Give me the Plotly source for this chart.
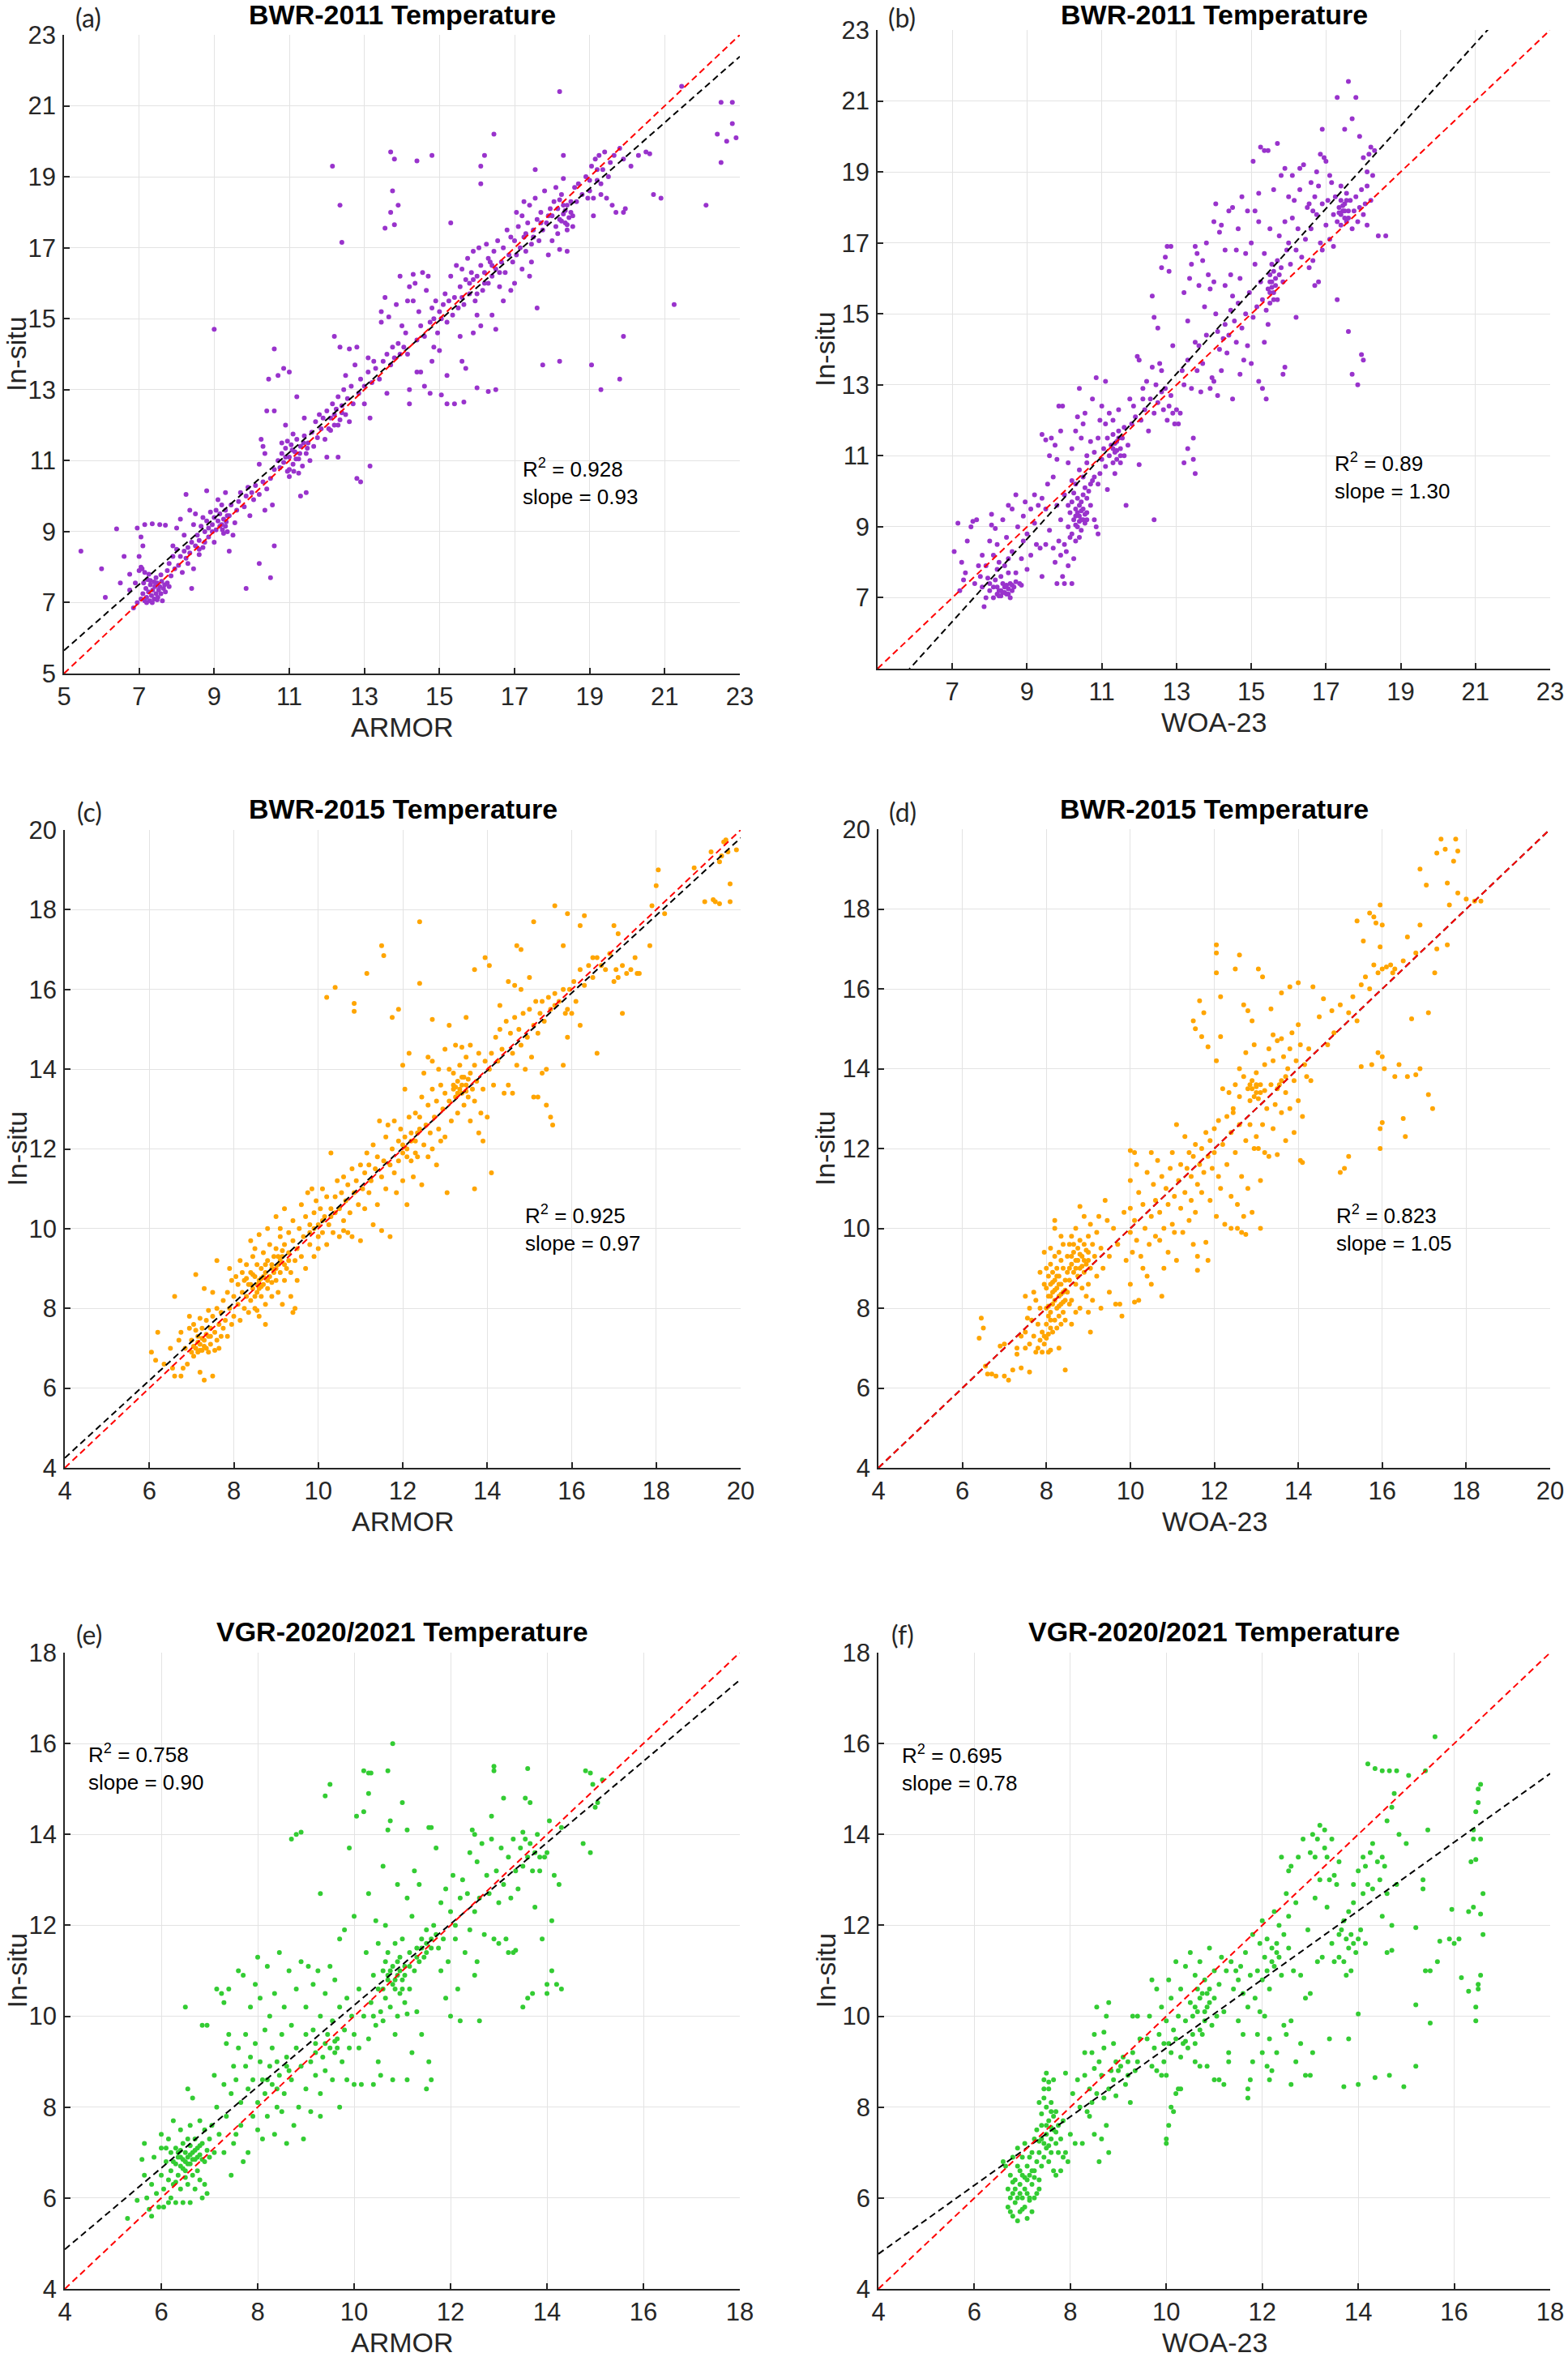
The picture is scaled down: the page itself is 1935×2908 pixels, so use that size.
import plotly.graph_objects as go

# ---- data: (model, in-situ) pairs ----
bwr2011_armor = [
    (7.05,7.10),(7.10,7.25),(7.15,7.05),(7.18,7.40),(7.20,7.15),(7.25,7.30),(7.28,7.05),(7.30,7.50),(7.33,7.20),(7.36,7.35),
    (7.40,7.10),(7.42,7.45),(7.45,7.25),(7.48,7.55),(7.50,7.15),(7.52,7.35),(7.55,7.45),(7.58,7.25),(7.60,7.60),(7.62,7.05),
    (7.65,7.40),(7.68,7.50),(7.70,7.30),(7.12,7.55),(7.22,7.65),(7.35,7.00),(7.45,7.70),(7.75,7.55),(7.80,7.45),(7.26,7.80),
    (7.08,7.95),(7.15,7.85),(6.85,6.85),(6.95,7.00),(6.75,7.35),(6.90,7.55),(7.0,7.9),(7.0,8.3),(7.1,8.6),(7.05,8.0),
    (6.95,9.10),(7.15,9.20),(7.35,9.22),(7.55,9.20),(7.70,9.18),(7.05,8.85),(5.45,8.45),(6.0,7.95),(6.1,7.15),(6.4,9.08),
    (6.6,8.30),(6.5,7.55),(6.75,7.80),(7.75,7.9),(7.8,8.1),(7.85,7.75),(7.9,8.3),(7.95,7.95),(8.0,8.5),(8.05,8.05),
    (8.1,8.3),(8.15,7.85),(8.2,8.45),(8.25,8.25),(8.3,8.55),(8.35,8.4),(8.4,8.7),(8.3,8.1),(8.2,8.9),(8.45,7.95),
    (8.0,9.1),(8.1,9.35),(8.25,10.05),(8.4,7.4),(8.45,9.2),(7.9,8.6),(8.35,9.6),(8.5,9.5),(8.5,8.6),(8.55,8.9),
    (8.6,8.75),(8.65,9.15),(8.7,9.4),(8.7,8.55),(8.75,9.0),(8.8,9.3),(8.85,8.85),(8.9,9.55),(8.95,9.2),(9.0,9.4),
    (9.05,9.05),(9.1,9.3),(9.15,9.5),(9.2,9.2),(9.25,9.35),(9.3,9.15),(9.3,9.6),(9.35,9.0),(9.4,9.45),(9.45,9.75),
    (9.2,9.75),(9.1,9.9),(9.5,8.9),(9.55,9.25),(9.6,9.6),(9.0,8.7),(8.8,10.15),(9.3,10.1),(9.4,8.45),(8.6,8.35),
    (9.25,8.95),(9.65,9.85),(9.7,10.1),(9.8,9.7),(9.85,10.0),(9.9,10.25),(10.0,10.1),(10.05,9.9),(10.1,10.3),(10.2,10.05),
    (10.3,10.4),(10.35,9.6),(10.4,10.2),(10.5,10.5),(10.55,9.75),(9.95,9.45),(10.2,10.9),(10.25,11.6),(10.35,11.2),(10.4,12.4),
    (10.6,12.4),(10.3,11.4),(10.6,14.15),(9.0,14.7),(9.85,7.4),(10.2,8.1),(10.5,7.7),(10.6,8.6),(10.6,10.75),(10.7,13.4),
    (10.45,13.3),(10.7,11.0),(10.75,10.8),(10.8,11.2),(10.85,10.95),(10.9,11.35),(10.95,10.7),(11.0,11.1),(11.05,11.45),(11.1,10.9),
    (11.15,11.25),(11.2,11.6),(11.25,11.05),(11.3,11.4),(11.35,10.85),(11.4,11.7),(11.45,11.2),(11.5,11.5),(11.55,11.0),(11.6,11.8),
    (11.1,11.75),(10.8,11.5),(10.9,12.0),(11.0,10.55),(11.25,10.65),(10.85,13.6),(11.0,13.5),(11.2,12.8),(11.3,10.0),(11.45,10.1),
    (11.65,11.4),(11.7,12.1),(11.75,11.65),(11.8,12.3),(11.4,12.2),(11.85,11.9),(11.9,12.2),(11.95,11.6),(12.0,12.4),(12.05,11.9),
    (12.1,12.2),(12.15,12.6),(12.2,12.0),(12.25,12.45),(12.3,12.8),(12.35,12.15),(12.4,12.55),(12.45,13.0),(12.5,12.3),(12.55,12.75),
    (12.6,12.1),(12.65,13.1),(12.7,12.6),(12.0,11.1),(12.2,14.5),(12.4,17.15),(12.15,19.3),(12.35,18.2),(12.35,14.2),(12.5,13.4),
    (12.6,14.15),(12.8,14.2),(12.75,13.7),(12.8,10.5),(12.9,10.4),(13.15,10.85),(12.3,11.1),(12.85,12.9),(12.9,13.3),(13.0,12.6),
    (13.0,13.1),(13.1,13.5),(13.15,12.2),(13.2,13.2),(13.3,13.6),(13.4,13.3),(13.5,13.8),(13.6,14.0),(13.7,13.7),(13.75,14.2),
    (13.8,13.9),(13.9,14.3),(13.95,14.0),(13.45,14.9),(13.55,15.6),(13.45,15.2),(13.65,15.05),(13.25,13.8),(13.6,12.9),(13.1,13.9),
    (13.85,15.4),(13.7,19.7),(13.8,19.5),(13.75,18.6),(13.9,18.2),(13.7,18.0),(13.8,17.65),(13.55,17.55),(14.0,14.8),(14.05,14.2),
    (14.1,14.6),(14.15,14.0),(14.2,15.9),(14.3,15.5),(14.35,16.0),(14.4,14.4),(14.45,15.2),(14.5,14.8),(14.55,16.3),(14.6,14.5),
    (14.65,15.8),(14.7,16.2),(14.75,14.9),(14.8,15.3),(14.85,15.0),(14.9,15.5),(14.95,14.6),(15.0,15.2),(15.05,15.0),(15.1,15.4),
    (15.15,15.7),(15.2,14.9),(15.25,15.5),(15.3,16.2),(15.35,15.1),(15.4,15.6),(15.45,16.5),(15.5,15.3),(14.2,12.6),(14.75,12.9),
    (15.05,12.85),(15.2,12.6),(15.4,12.6),(15.65,12.65),(14.4,13.5),(14.6,13.1),(14.8,13.8),(15.0,14.1),(15.2,13.4),(14.2,13.0),
    (14.85,14.2),(14.5,13.5),(14.4,19.45),(14.8,19.6),(15.3,17.7),(14.3,16.25),(13.95,16.2),(14.15,15.5),(15.6,13.8),(15.7,13.6),
    (15.55,14.5),(15.55,15.9),(15.6,16.4),(15.65,15.4),(15.7,16.1),(15.75,16.7),(15.8,15.7),(15.85,16.3),(15.9,16.9),(15.95,15.5),
    (16.0,16.2),(16.05,17.0),(16.1,16.5),(16.15,15.8),(16.2,16.3),(16.25,17.1),(16.3,16.0),(16.35,16.6),(16.4,16.2),(16.45,16.9),
    (16.5,16.4),(16.55,17.2),(16.6,15.9),(16.65,16.6),(16.7,17.0),(16.75,16.3),(16.8,17.5),(16.85,16.8),(16.9,17.3),(16.95,16.6),
    (16.1,19.3),(16.2,19.6),(16.1,18.8),(16.45,20.2),(16.0,13.05),(16.3,12.95),(16.5,13.0),(16.4,15.1),(16.1,14.8),(15.9,14.6),
    (16.5,14.7),(16.0,15.1),(16.7,15.5),(16.9,15.8),(17.0,16.0),(17.0,17.2),(17.05,16.8),(17.1,17.6),(17.15,17.0),(17.2,17.9),
    (17.25,17.3),(17.3,16.9),(17.35,17.7),(17.4,18.2),(17.45,17.1),(17.5,17.5),(17.55,18.4),(17.6,17.8),(17.65,17.2),(17.7,18.0),
    (17.75,17.5),(17.8,18.6),(17.85,17.7),(17.9,16.8),(17.95,18.1),(17.55,19.2),(17.6,15.3),(17.75,13.7),(17.2,16.4),(17.4,16.2),
    (17.05,18.0),(17.25,18.3),(17.45,16.6),(18.0,17.9),(18.05,18.3),(18.1,17.6),(18.15,18.1),(18.2,17.8),(18.25,18.5),(18.3,17.95),
    (18.35,17.7),(18.4,18.2),(18.45,17.85),(18.5,18.0),(18.55,17.6),(18.6,18.7),(18.65,18.3),(18.7,18.8),(18.8,18.5),(18.9,19.0),
    (18.95,18.4),(18.1,18.7),(18.3,18.95),(18.0,17.2),(18.2,16.95),(18.4,16.9),(18.2,21.4),(18.3,19.6),(18.2,13.8),(18.4,17.5),
    (18.15,17.4),(19.0,18.6),(19.05,19.3),(19.1,18.4),(19.15,19.5),(19.2,18.9),(19.25,19.6),(19.3,18.5),(19.35,19.2),(19.45,18.4),
    (19.5,19.0),(19.55,19.4),(19.6,18.2),(19.7,18.0),(19.8,19.8),(19.9,18.0),(19.95,18.1),(19.05,13.7),(19.3,13.0),(19.8,13.3),
    (19.9,14.5),(19.1,17.9),(19.4,19.7),(20.3,19.6),(20.5,19.7),(20.7,18.5),(20.9,18.4),(20.6,19.65),(20.1,19.3),(19.9,19.5),
    (19.65,19.6),(21.25,15.4),(21.45,21.55),(22.1,18.2),(22.4,20.2),(22.5,21.1),(22.5,19.4),(22.65,20.0),(22.8,21.1),(22.8,20.5),
    (22.9,20.1),
    (7.3,7.62),(7.48,7.08),(7.58,7.78),(7.2,7.0),(7.4,7.58),(8.6,8.5),(8.75,8.7),(8.95,9.0),(9.15,9.15),(9.35,9.45),
    (9.22,9.05),(9.32,9.28),(8.85,9.1),(9.05,9.6),(10.9,11.1),(11.0,10.75),(11.08,11.3),(11.18,11.05),(11.28,11.2),(11.38,11.5),
    (11.48,11.35),(11.12,10.7),(10.95,11.55),(12.1,11.85),(12.2,12.3),(12.3,12.0),(12.4,12.35),(15.6,15.6),(15.8,16.0),(16.0,15.7),
    (16.2,16.0),(16.4,16.5),(16.6,16.3),(15.9,16.1),(16.3,16.7),(17.3,17.4),(17.5,17.3),(17.7,17.7),(17.9,17.9),(18.3,18.2),
    (18.4,17.65),(18.5,18.3),(18.25,17.75),(18.35,18.05),(18.55,17.9),(18.2,18.35),(19.2,19.2),(19.3,18.8),(19.0,18.9),
]

bwr2011_woa = [
    (7.05,8.3),(7.15,9.1),(7.2,7.2),(7.25,8.0),(7.3,7.5),(7.35,7.7),(7.4,8.6),(7.5,9.0),(7.55,9.15),(7.65,9.2),
    (7.7,7.9),(7.75,7.6),(7.8,7.3),(7.85,6.75),(7.9,7.0),(7.8,8.2),(7.9,7.9),(8.0,8.6),(8.05,9.05),(8.1,8.2),
    (8.15,8.95),(8.2,8.5),(8.0,7.4),(8.1,7.3),(8.2,7.1),(8.25,7.2),(8.3,7.05),(8.35,7.15),(8.4,7.3),(8.45,7.1),
    (8.5,7.25),(8.55,7.4),(8.6,7.2),(8.65,7.3),(8.7,7.45),(8.8,7.4),(8.85,7.35),(8.15,7.5),(8.3,7.6),(8.4,7.9),
    (8.5,7.7),(8.5,8.1),(8.6,8.3),(8.45,8.7),(8.6,9.5),(8.7,9.9),(8.5,9.6),(8.35,9.2),(8.75,9.0),(8.9,9.3),
    (8.9,8.6),(9.0,8.8),(8.85,8.1),(9.0,7.8),(8.95,9.7),(8.05,9.35),(8.2,7.8),(7.95,7.55),(8.25,8.0),(8.55,7.0),
    (8.7,7.7),(8.0,7.2),(8.1,7.0),(7.6,7.4),(9.1,9.5),(9.2,9.9),(9.3,9.6),(9.4,9.8),(9.5,9.5),(9.2,9.1),
    (9.35,8.4),(9.4,7.6),(9.5,8.5),(9.6,8.9),(9.1,8.2),(9.25,8.5),(9.4,11.6),(9.5,11.45),(9.6,11.0),(9.65,11.5),
    (9.75,11.3),(9.8,10.9),(9.7,10.4),(9.55,10.2),(9.85,12.4),(9.95,12.4),(9.9,11.7),(9.7,8.4),(9.75,8.0),(9.8,7.4),
    (9.85,8.6),(9.9,8.2),(9.95,7.6),(10.0,7.4),(10.0,8.5),(10.05,8.3),(10.1,7.9),(10.15,8.7),(10.2,7.4),(10.25,8.1),
    (9.9,9.2),(9.8,9.6),(10.0,9.9),(10.1,9.0),(10.15,9.4),(10.2,9.7),(10.2,8.8),(10.25,9.2),(10.3,9.5),(10.3,8.6),
    (10.35,9.0),(10.35,9.8),(10.4,9.3),(10.4,9.6),(10.45,8.9),(10.45,9.2),(10.5,9.5),(10.5,9.9),(10.55,9.1),(10.55,10.1),
    (10.6,9.4),(10.6,9.8),(10.65,10.0),(10.7,10.2),(10.7,9.6),(10.75,10.3),(10.8,9.2),(10.85,9.0),(10.9,8.8),(10.3,10.2),
    (10.4,10.6),(10.5,10.4),(10.6,10.8),(10.8,10.4),(10.9,10.2),(10.95,10.5),(10.25,9.95),(10.1,9.6),(10.4,8.7),(10.6,9.2),
    (10.2,10.3),(10.1,10.8),(10.2,11.2),(10.3,11.7),(10.35,12.1),(10.4,12.9),(10.5,11.9),(10.55,12.2),(10.6,11.0),(10.7,11.4),
    (10.75,12.6),(10.8,11.1),(10.85,13.2),(10.9,11.5),(10.95,12.0),(11.1,13.1),(11.0,12.4),(10.45,11.5),(11.15,10.05),(11.0,10.9),
    (11.05,11.2),(11.1,10.7),(11.15,11.5),(11.2,11.0),(11.25,11.3),(11.3,10.8),(11.3,11.6),(11.35,11.1),(11.4,11.4),(11.4,10.9),
    (11.45,11.7),(11.5,11.2),(11.5,10.8),(11.55,11.5),(11.6,11.0),(11.6,11.8),(11.2,12.2),(11.3,12.0),(11.45,12.3),(11.1,11.9),
    (11.7,11.3),(11.75,12.6),(11.65,9.6),(11.35,10.5),(11.8,11.9),(11.85,12.4),(11.9,12.1),(11.95,13.8),(12.0,13.7),(12.05,12.0),
    (12.1,12.9),(12.15,12.3),(12.2,13.1),(12.25,11.7),(12.3,12.6),(12.35,13.5),(12.4,12.2),(12.45,13.0),(12.5,12.5),(12.5,14.6),
    (12.4,14.9),(12.35,15.5),(12.55,13.6),(12.6,12.8),(12.65,12.3),(12.7,12.9),(12.75,12.0),(12.8,12.4),(12.85,12.7),(12.9,12.2),
    (12.95,11.9),(13.0,12.3),(12.6,16.3),(12.7,16.6),(12.75,16.9),(12.85,16.9),(12.8,16.2),(12.9,14.1),(12.0,10.75),(12.4,9.2),
    (12.1,12.6),(12.6,13.4),(13.05,11.9),(13.1,12.2),(13.2,10.8),(13.45,10.9),(13.5,10.5),(13.45,11.5),(13.3,11.2),(13.2,13.0),
    (13.3,13.7),(13.4,12.9),(13.5,14.2),(13.55,13.4),(13.6,14.1),(13.65,12.8),(13.7,13.6),(13.8,14.4),(13.9,12.9),(13.95,13.2),
    (13.2,15.6),(13.35,16.0),(13.4,16.4),(13.5,16.9),(13.55,16.7),(13.7,16.5),(13.6,15.8),(13.75,15.2),(13.8,17.0),(13.85,16.1),
    (13.9,15.7),(13.3,14.8),(13.15,13.4),(14.0,17.6),(14.05,18.1),(14.15,17.3),(14.2,17.5),(14.3,16.8),(14.4,17.9),(14.45,16.1),
    (14.5,18.0),(14.6,16.8),(14.65,17.4),(14.75,18.3),(14.85,16.7),(14.9,17.9),(14.0,13.1),(14.1,12.7),(14.2,13.4),(14.25,14.3),
    (14.3,14.7),(14.35,13.9),(14.4,14.4),(14.45,15.1),(14.5,12.6),(14.55,14.8),(14.6,14.2),(14.65,15.3),(14.7,13.3),(14.75,14.6),
    (14.8,13.7),(14.85,15.0),(14.9,14.1),(14.95,15.6),(14.05,15.0),(14.15,14.0),(14.5,15.5),(14.7,16.0),(14.0,15.9),(14.3,15.8),
    (14.1,14.5),(15.0,13.6),(15.05,14.9),(15.1,16.4),(15.15,15.2),(15.2,13.1),(15.25,15.9),(15.3,15.4),(15.3,12.9),(15.35,16.7),
    (15.4,15.1),(15.4,12.6),(15.45,15.7),(15.5,16.1),(15.5,15.3),(15.55,15.9),(15.55,16.4),(15.6,15.6),(15.6,16.2),(15.65,15.8),
    (15.7,16.5),(15.7,15.4),(15.75,16.1),(15.8,16.3),(15.85,15.9),(15.45,14.7),(15.35,14.2),(15.0,17.0),(15.1,17.9),(15.2,18.4),
    (15.05,19.3),(15.25,19.7),(15.35,19.6),(15.45,19.6),(15.7,19.8),(15.6,18.5),(15.8,18.9),(15.9,19.1),(15.75,17.2),(15.9,17.6),
    (15.95,16.8),(15.9,13.5),(15.85,13.3),(15.2,17.6),(15.5,17.4),(16.0,17.0),(16.05,16.4),(16.1,17.7),(16.15,18.2),(16.2,16.8),
    (16.2,14.9),(16.25,17.4),(16.3,18.5),(16.35,16.6),(16.4,19.2),(16.45,17.1),(16.5,18.0),(16.55,16.3),(16.6,18.7),(16.6,17.4),
    (16.65,16.5),(16.7,18.3),(16.75,17.8),(16.8,18.6),(16.8,15.9),(16.85,17.0),(16.9,18.1),(16.9,16.8),(16.95,19.4),(16.9,20.2),
    (16.7,15.8),(16.3,19.1),(16.55,18.1),(16.75,19.0),(16.1,18.9),(16.65,17.9),(16.0,18.3),(17.0,17.5),(17.05,18.2),(17.1,17.1),
    (17.15,18.7),(17.2,17.8),(17.25,18.3),(17.3,17.6),(17.3,21.1),(17.35,18.0),(17.4,18.2),(17.4,17.5),(17.45,17.9),(17.5,18.1),
    (17.5,17.7),(17.55,17.6),(17.55,18.4),(17.6,17.9),(17.6,21.55),(17.65,18.2),(17.7,17.4),(17.7,20.5),(17.75,17.9),(17.8,18.3),
    (17.8,21.1),(17.85,17.6),(17.9,18.0),(17.9,20.0),(17.95,18.5),(18.0,17.8),(18.0,19.4),(18.05,18.1),(18.1,17.5),(18.1,19.0),
    (18.15,19.5),(18.2,19.7),(18.2,18.2),(18.25,18.9),(18.3,19.6),(18.4,17.2),(18.6,17.2),(17.5,20.2),(17.3,15.4),(17.6,14.5),
    (17.95,13.85),(18.0,13.7),(17.85,13.0),(17.7,13.3),(17.2,16.9),(17.0,19.3),(16.85,19.5),(17.1,18.9),(18.1,18.6),(17.4,18.6),
    (8.2,7.3),(8.3,7.2),(8.4,7.15),(8.35,7.4),(8.45,7.35),(8.25,7.05),(8.5,7.1),(8.6,7.35),(10.3,9.3),(10.35,9.4),
    (10.4,9.15),(10.45,9.45),(10.5,9.2),(10.55,9.35),(10.45,9.7),(10.3,9.05),(11.35,11.35),(11.4,11.15),(11.45,11.5),(11.5,11.0),
    (11.3,11.2),(15.5,15.6),(15.55,15.75),(15.6,15.4),(15.65,16.0),(15.5,15.9),(17.4,17.8),(17.45,18.05),(17.5,17.9),(17.55,18.2),
    (17.6,17.7),(17.35,17.85),
]

bwr2015_armor = [
    (6.05,6.9),(6.2,7.4),(6.15,6.7),(6.35,6.6),(6.5,7.0),(6.55,6.5),(6.6,8.3),(6.6,6.3),(6.75,6.3),(6.8,6.5),
    (6.7,7.2),(6.75,7.4),(6.85,7.0),(6.9,6.6),(6.95,7.5),(7.0,6.9),(7.0,7.2),(7.05,6.8),(7.05,7.6),(7.1,7.0),
    (7.1,8.85),(7.15,7.3),(7.15,6.9),(7.2,7.1),(7.2,6.4),(7.25,7.5),(7.25,6.95),(7.3,7.2),(7.3,6.2),(7.35,7.0),
    (7.35,7.7),(7.4,7.3),(7.4,6.9),(7.45,7.5),(7.45,7.1),(7.5,7.8),(7.5,6.3),(7.55,7.4),(7.6,7.2),(7.6,8.0),
    (7.65,7.6),(7.7,7.3),(7.7,7.9),(7.75,8.2),(7.75,7.5),(7.8,7.7),(7.85,8.4),(7.85,7.3),(7.9,8.0),(7.95,7.6),
    (7.3,8.5),(7.5,8.4),(7.6,9.2),(7.9,9.0),(7.95,8.7),(7.1,7.45),(7.2,7.75),(6.95,7.8),(7.4,7.95),(7.55,6.95),
    (7.65,7.0),(8.0,8.3),(8.0,7.8),(8.05,8.8),(8.1,8.1),(8.1,8.6),(8.15,7.7),(8.15,9.2),(8.2,8.4),(8.2,8.9),
    (8.25,8.0),(8.25,8.7),(8.3,8.3),(8.3,9.1),(8.35,8.6),(8.35,7.9),(8.4,8.9),(8.4,8.2),(8.45,9.3),(8.45,8.5),
    (8.5,8.0),(8.5,8.8),(8.5,9.5),(8.55,8.4),(8.55,9.1),(8.6,8.7),(8.6,7.8),(8.65,9.0),(8.65,8.3),(8.7,8.6),
    (8.7,9.4),(8.75,8.9),(8.75,8.1),(8.8,9.2),(8.8,8.5),(8.85,8.8),(8.85,9.6),(8.9,9.0),(8.9,8.3),(8.95,9.3),
    (9.0,8.7),(9.0,9.5),(9.05,9.1),(9.05,8.4),(9.1,9.8),(9.1,8.9),(9.15,9.3),(9.2,9.6),(9.2,8.7),(9.25,9.0),
    (9.3,9.9),(9.3,9.4),(9.35,8.9),(9.4,9.7),(9.4,10.2),(9.45,9.2),(9.5,9.5),(9.5,8.7),(9.45,8.0),(9.4,7.9),
    (9.35,8.3),(8.6,9.85),(8.8,10.0),(9.0,10.3),(9.2,10.5),(9.1,10.0),(8.4,9.7),(8.55,7.95),(8.75,7.6),(9.15,8.1),
    (8.3,8.75),(8.65,8.55),(8.9,8.65),(9.55,10.0),(9.6,9.3),(9.6,10.6),(9.65,9.8),(9.7,10.3),(9.7,9.0),(9.75,10.9),
    (9.8,9.6),(9.8,10.1),(9.85,11.0),(9.9,10.4),(9.9,9.3),(9.95,10.7),(10.0,10.1),(10.0,9.5),(10.05,10.5),(10.1,11.0),
    (10.1,9.9),(10.15,10.3),(10.2,10.8),(10.2,9.6),(10.25,10.1),(10.3,11.9),(10.3,10.5),(10.35,9.9),(10.4,10.8),(10.45,11.2),
    (10.5,10.5),(10.5,9.8),(10.55,10.9),(10.6,11.3),(10.6,10.2),(10.65,10.7),(10.7,9.9),(10.7,11.1),(10.75,10.4),(10.8,11.5),
    (10.8,9.8),(10.85,10.9),(10.9,11.2),(10.95,10.6),(11.0,11.6),(11.0,9.7),(10.2,15.8),(10.4,16.05),(10.85,15.65),(10.85,15.45),
    (10.6,9.95),(11.05,11.0),(11.1,11.4),(11.15,11.9),(11.2,10.9),(11.2,11.6),(11.25,11.2),(11.3,12.1),(11.35,11.5),(11.4,10.6),
    (11.4,11.8),(11.45,12.7),(11.5,11.3),(11.5,9.95),(11.55,11.7),(11.6,12.3),(11.6,11.0),(11.65,12.6),(11.7,11.6),(11.7,9.8),
    (11.75,12.0),(11.8,11.4),(11.8,12.7),(11.85,10.9),(11.9,12.2),(11.9,11.7),(11.95,12.5),(12.0,11.9),(12.0,11.2),(12.05,12.3),
    (12.1,10.6),(12.1,12.0),(12.15,12.8),(12.2,11.7),(12.2,12.4),(12.25,11.3),(12.3,12.2),(12.3,12.9),(12.35,11.8),(12.4,12.5),
    (12.45,11.1),(12.45,13.3),(12.5,12.1),(11.15,16.4),(11.5,17.1),(11.55,16.85),(11.75,15.3),(11.9,15.5),(12.4,17.7),(12.4,16.15),
    (12.15,14.4),(12.0,14.1),(11.1,10.5),(11.3,10.1),(12.05,13.5),(12.55,12.6),(12.6,13.1),(12.6,11.8),(12.65,12.4),(12.7,13.5),
    (12.7,12.0),(12.75,12.8),(12.8,13.2),(12.8,11.6),(12.85,12.5),(12.9,13.6),(12.9,12.2),(12.95,13.0),(13.0,13.4),(13.0,12.3),
    (13.05,10.9),(13.1,13.2),(13.1,14.0),(13.15,12.7),(13.2,13.5),(13.2,13.9),(13.25,13.3),(13.3,13.7),(13.3,12.9),(13.35,14.1),
    (13.4,13.4),(13.4,13.8),(13.45,13.1),(13.5,13.6),(13.5,14.3),(13.55,13.3),(13.6,13.9),(13.6,12.7),(13.65,13.5),(13.7,14.1),
    (13.7,13.2),(13.75,13.7),(13.8,12.4),(13.8,14.4),(13.85,12.9),(13.9,13.5),(13.95,14.2),(14.0,12.8),(12.7,15.25),(13.1,15.1),
    (13.5,15.3),(13.7,16.5),(13.95,16.8),(14.05,16.6),(13.7,11.0),(14.1,11.4),(12.6,14.3),(12.7,14.2),(12.85,14.0),(13.0,14.5),
    (12.5,13.9),(13.25,14.6),(13.4,14.55),(13.6,14.6),(13.9,12.2),(12.4,12.8),(14.05,14.0),(14.1,14.4),(14.15,13.6),(14.2,14.8),
    (14.25,14.2),(14.3,15.0),(14.35,14.5),(14.4,13.4),(14.45,15.2),(14.5,13.6),(14.55,14.9),(14.6,14.4),(14.65,15.3),(14.7,14.1),
    (14.75,15.0),(14.8,14.6),(14.85,15.4),(14.9,14.0),(14.95,14.8),(15.0,15.5),(15.05,14.3),(15.1,13.3),(15.1,15.1),(15.15,15.7),
    (15.2,13.3),(15.2,14.9),(15.25,15.4),(15.3,13.9),(15.3,15.7),(15.35,15.2),(15.4,14.0),(15.4,13.1),(15.45,15.8),(15.5,12.8),
    (15.5,15.5),(15.55,12.6),(15.6,15.9),(15.6,15.6),(15.7,15.7),(15.8,16.0),(15.8,14.1),(15.85,15.4),(15.9,15.5),(15.95,16.0),
    (14.6,13.4),(14.7,17.1),(14.8,17.0),(15.1,17.7),(15.6,18.1),(14.65,16.1),(14.8,16.0),(14.5,16.2),(15.0,16.3),(14.3,15.6),
    (16.0,15.4),(16.05,16.2),(16.1,15.7),(16.2,16.5),(16.3,16.1),(16.4,16.6),(16.5,16.3),(16.6,14.4),(16.6,16.8),(16.7,16.6),
    (16.8,16.5),(16.9,16.9),(17.0,16.2),(17.05,16.5),(17.1,17.4),(17.1,16.3),(17.2,16.6),(17.2,15.4),(17.3,16.4),(17.4,16.5),
    (17.5,16.8),(17.55,16.4),(17.6,16.4),(17.0,17.6),(16.3,17.85),(16.2,17.6),(15.9,17.9),(15.8,17.1),(16.5,16.8),(17.85,17.1),
    (17.9,18.1),(18.05,19.0),(18.0,18.6),(18.2,17.9),(18.9,19.05),(19.15,18.2),(19.35,18.25),(19.5,18.15),(19.3,19.45),(19.5,19.2),
    (19.6,19.7),(19.7,19.45),(19.75,18.65),(19.75,18.2),(19.4,18.2),(19.65,19.75),(19.9,19.5),(19.55,19.35),(15.9,14.8),(16.2,15.1),
    (7.05,7.05),(7.15,7.15),(7.25,7.25),(7.35,7.35),(7.45,7.3),(7.2,6.95),(7.3,7.05),(8.4,8.6),(8.5,8.3),(8.6,8.5),
    (8.7,8.8),(8.8,8.7),(8.9,9.1),(9.0,9.0),(9.1,9.2),(9.2,9.1),(8.45,8.85),(8.65,8.75),(8.75,9.1),(8.55,8.6),
    (8.95,8.9),(9.05,9.3),(9.15,9.45),(9.3,9.2),(12.0,12.1),(12.1,11.8),(12.2,12.2),(12.3,11.9),(12.35,12.4),(13.2,13.6),
    (13.3,13.4),(13.4,13.6),(13.5,13.45),(13.45,13.8),(13.35,13.5),(13.55,13.75),(13.25,13.55),(9.8,9.9),(9.9,10.0),(10.0,9.8),
    (10.1,10.2),(10.3,10.3),(10.4,10.4),
]

bwr2015_woa = [
    (6.4,7.25),(6.45,7.75),(6.5,7.5),(6.55,6.55),(6.6,6.35),(6.7,6.35),(6.8,6.3),(6.9,7.05),(7.0,7.1),(7.0,6.3),
    (7.1,6.2),(7.2,6.45),(7.3,7.0),(7.4,6.5),(7.4,7.3),(7.5,7.0),(7.5,7.4),(7.6,6.4),(7.6,7.1),(7.65,7.7),
    (7.7,7.3),(7.75,8.2),(7.75,6.9),(7.8,7.0),(7.8,7.6),(7.85,7.2),(7.85,8.0),(7.9,6.9),(7.9,7.4),(7.95,7.1),
    (7.95,8.6),(7.95,9.4),(7.7,8.4),(7.5,8.3),(7.6,8.0),(7.85,8.9),(7.3,6.85),(7.55,7.75),(8.05,6.9),(8.0,7.25),
    (8.1,6.95),(8.0,7.6),(8.0,8.0),(8.0,8.5),(8.05,7.8),(8.05,8.3),(8.05,8.8),(8.1,7.5),(8.1,7.9),(8.1,8.6),
    (8.1,9.1),(8.15,7.4),(8.15,8.1),(8.15,8.4),(8.15,8.9),(8.2,7.7),(8.2,8.2),(8.2,8.7),(8.2,9.3),(8.2,10.2),
    (8.25,7.5),(8.25,8.0),(8.25,8.5),(8.25,9.0),(8.3,7.8),(8.3,8.3),(8.3,8.8),(8.3,9.4),(8.35,7.6),(8.35,8.1),
    (8.35,8.6),(8.35,9.2),(8.4,7.9),(8.4,8.4),(8.4,9.0),(8.4,9.6),(8.45,7.7),(8.45,8.2),(8.45,8.7),(8.45,6.45),
    (8.3,7.0),(8.0,9.0),(8.1,9.5),(8.2,10.0),(8.35,9.8),(8.5,8.9),(8.5,9.3),(8.5,8.4),(8.55,9.6),(8.55,8.7),
    (8.6,9.1),(8.6,8.2),(8.6,9.8),(8.65,8.9),(8.65,9.4),(8.7,8.6),(8.7,9.2),(8.7,10.0),(8.75,9.5),(8.75,8.8),
    (8.8,9.0),(8.8,9.7),(8.8,10.55),(8.85,8.5),(8.85,9.3),(8.9,9.6),(8.9,8.9),(8.9,10.3),(8.95,9.1),(9.0,9.8),
    (9.0,8.6),(9.0,9.4),(9.05,10.1),(9.05,9.0),(9.1,9.6),(9.1,8.2),(9.15,9.3),(9.2,9.9),(9.2,8.8),(9.25,10.3),
    (9.3,9.5),(9.3,8.0),(9.35,9.0),(9.4,10.7),(9.45,10.2),(9.5,9.3),(9.5,8.4),(9.6,10.0),(9.65,8.1),(9.7,9.6),
    (9.75,8.1),(9.8,7.8),(9.85,10.4),(9.9,9.2),(9.05,7.4),(9.0,7.9),(8.6,7.6),(8.7,7.9),(8.8,8.0),(8.55,8.1),
    (8.95,8.3),(10.0,9.9),(10.0,10.5),(10.0,11.2),(10.0,8.6),(10.05,9.4),(10.1,11.9),(10.1,10.2),(10.1,8.15),(10.15,9.7),
    (10.15,11.6),(10.2,10.9),(10.2,8.2),(10.25,9.3),(10.3,10.6),(10.35,10.0),(10.4,11.4),(10.4,8.8),(10.45,9.6),(10.5,10.3),
    (10.5,8.6),(10.55,11.1),(10.6,9.8),(10.6,10.7),(10.65,11.7),(10.7,9.7),(10.7,10.4),(10.75,8.3),(10.75,11.3),(10.8,10.0),
    (10.8,9.0),(10.85,11.0),(10.9,10.6),(10.9,9.4),(10.95,11.5),(11.0,10.1),(11.0,11.9),(11.05,9.9),(11.05,10.8),(11.1,12.6),
    (11.1,9.2),(11.15,11.2),(11.2,10.5),(11.2,11.6),(11.25,9.9),(11.3,12.3),(11.3,10.9),(11.35,11.5),(11.4,10.2),(11.4,11.9),
    (11.45,10.7),(11.45,11.3),(11.5,11.8),(11.5,9.6),(11.55,12.1),(11.55,10.4),(11.6,8.95),(11.6,9.3),(11.6,11.1),(10.0,11.95),
    (10.3,9.0),(10.5,11.9),(11.65,11.6),(11.7,12.0),(11.7,10.9),(11.75,11.4),(11.8,12.4),(11.8,9.65),(11.85,9.2),(11.85,11.8),
    (11.9,12.2),(11.9,10.7),(11.95,11.5),(12.0,11.9),(12.0,12.5),(12.05,10.3),(12.1,11.3),(12.1,12.7),(12.15,11.0),(12.2,12.1),
    (12.25,10.1),(12.3,12.8),(12.3,11.6),(12.35,13.4),(12.4,12.4),(12.4,10.8),(12.45,13.0),(12.5,11.9),(12.5,13.6),(12.55,10.6),
    (12.6,12.6),(12.6,13.3),(12.65,11.3),(12.7,13.8),(12.7,10.3),(12.75,12.2),(12.8,13.5),(12.8,11.0),(12.85,13.2),(12.85,12.6),
    (12.9,13.7),(12.9,10.4),(12.95,12.0),(13.0,13.4),(13.0,12.3),(13.0,13.9),(12.55,10.0),(12.75,9.85),(12.4,10.0),(12.65,9.9),
    (11.5,15.2),(11.55,15.0),(11.65,15.7),(11.75,15.4),(11.7,14.8),(11.85,14.55),(12.05,17.1),(12.05,16.9),(12.05,16.4),(12.15,15.8),
    (12.15,14.8),(12.05,14.2),(12.5,16.5),(12.6,16.85),(12.7,15.6),(12.8,15.45),(12.9,15.2),(12.75,14.4),(12.6,14.0),(12.95,14.6),
    (12.45,12.9),(12.2,13.5),(13.05,12.0),(13.05,16.5),(13.1,13.6),(13.1,11.2),(13.15,12.6),(13.15,16.3),(13.2,14.1),(13.2,11.9),
    (13.25,13.0),(13.3,14.5),(13.3,11.8),(13.35,13.6),(13.35,15.5),(13.4,12.5),(13.4,14.2),(13.45,13.1),(13.5,14.7),(13.5,11.85),
    (13.55,13.6),(13.6,12.9),(13.6,15.9),(13.65,14.3),(13.7,13.4),(13.7,12.2),(13.75,14.0),(13.8,14.5),(13.8,13.0),(13.85,14.9),
    (13.9,13.7),(13.9,12.4),(13.95,14.2),(14.0,15.1),(14.0,13.2),(14.05,14.6),(14.1,11.65),(14.1,12.8),(14.15,14.1),(14.2,13.8),
    (14.25,14.5),(14.3,13.7),(14.0,16.15),(13.8,16.05),(14.35,16.05),(13.1,10.0),(14.05,11.7),(13.4,14.85),(13.6,14.75),(13.2,13.45),
    (13.0,13.6),(14.6,15.75),(14.8,15.45),(14.85,14.9),(15.0,15.6),(15.2,15.4),(15.3,15.8),(15.4,15.2),(15.5,16.1),(15.6,16.3),
    (15.8,16.6),(15.7,16.0),(15.9,16.4),(16.0,16.5),(16.1,16.55),(16.2,16.6),(16.3,16.5),(16.25,16.4),(15.0,11.4),(15.1,11.5),
    (15.2,11.8),(15.5,14.05),(15.75,14.1),(15.9,14.4),(16.0,14.3),(16.05,14.0),(16.3,13.8),(16.4,14.1),(16.6,13.8),(16.8,13.85),
    (16.9,14.0),(16.0,12.65),(15.95,12.5),(15.95,12.0),(16.5,12.75),(16.55,12.3),(17.1,13.35),(17.2,13.0),(15.4,17.7),(15.55,17.2),
    (15.7,17.9),(15.8,17.8),(15.85,17.65),(15.95,18.1),(16.0,17.6),(15.95,17.05),(16.6,17.3),(16.7,15.25),(17.1,15.4),(16.9,17.6),
    (16.9,19.0),(17.05,18.6),(17.3,19.4),(17.4,19.75),(17.5,19.5),(17.55,18.65),(17.7,19.2),(17.75,19.75),(17.8,19.45),(17.8,18.4),
    (17.6,18.1),(17.55,17.1),(18.0,18.25),(18.2,18.2),(18.35,18.2),(17.3,17.0),(17.25,16.4),(16.8,16.9),(16.5,16.7),(14.5,15.3),
    (14.7,14.6),
    (8.1,8.3),(8.2,8.45),(8.3,8.6),(8.4,8.15),(8.25,8.8),(8.35,8.35),(8.15,8.65),(8.45,8.45),(8.05,8.05),(8.3,8.05),
    (8.6,9.3),(8.7,9.0),(8.8,9.35),(8.9,9.2),(9.0,9.2),(8.65,9.6),(8.75,9.2),(8.85,9.05),(8.95,9.45),(8.55,9.0),
    (8.05,7.35),(7.95,7.3),(8.1,7.7),(12.9,13.5),(13.0,13.55),(12.95,13.3),(13.1,13.4),(12.85,13.6),(13.05,13.25),(13.6,13.7),
    (13.7,13.8),(13.5,13.5),
]

vgr2021_armor = [
    (5.3,5.55),(5.5,5.95),(5.6,6.85),(5.65,7.2),(5.65,6.5),(5.7,6.0),(5.75,5.75),(5.8,6.3),(5.8,5.6),(5.85,6.9),
    (5.9,6.1),(5.95,5.8),(6.0,6.5),(6.0,7.1),(6.05,6.2),(6.05,5.8),(6.1,6.8),(6.1,7.1),(6.15,6.4),(6.15,5.9),
    (6.2,6.0),(6.2,6.6),(6.2,7.0),(6.25,6.3),(6.25,6.8),(6.3,7.1),(6.3,5.9),(6.35,6.5),(6.35,6.9),(6.4,6.2),
    (6.4,6.7),(6.4,7.05),(6.45,6.85),(6.45,5.9),(6.5,6.6),(6.5,7.0),(6.55,6.3),(6.55,6.9),(6.6,6.75),(6.6,7.15),
    (6.6,5.9),(6.65,6.5),(6.65,7.0),(6.7,6.85),(6.7,6.2),(6.75,7.1),(6.75,6.6),(6.8,6.95),(6.8,6.4),(6.85,7.2),
    (6.85,6.0),(6.9,6.8),(6.9,6.3),(6.95,7.05),(6.95,6.1),(7.0,6.9),(7.0,7.3),(6.5,6.45),(6.3,6.35),(6.45,7.2),
    (6.55,7.3),(6.7,7.3),(6.15,7.3),(6.5,10.2),(6.55,8.4),(6.65,8.2),(6.8,7.7),(6.85,9.8),(6.95,9.8),(6.9,7.5),
    (6.6,7.6),(6.4,7.5),(6.25,7.7),(6.0,7.4),(7.05,7.6),(7.1,8.7),(7.1,7.0),(7.15,10.6),(7.15,8.0),(7.2,7.4),
    (7.25,10.5),(7.3,8.5),(7.3,10.3),(7.35,7.8),(7.35,9.4),(7.4,9.6),(7.45,8.3),(7.45,6.5),(7.5,8.9),(7.5,7.2),
    (7.55,8.6),(7.6,9.3),(7.6,11.0),(7.65,7.6),(7.65,8.1),(7.7,10.9),(7.7,6.8),(7.75,8.9),(7.75,9.6),(7.8,8.4),
    (7.8,7.0),(7.85,10.2),(7.85,9.1),(7.9,7.8),(7.9,8.6),(7.95,10.7),(7.95,9.4),(8.0,8.1),(8.0,11.3),(8.0,7.5),
    (8.05,9.0),(8.05,10.4),(8.1,8.6),(8.1,7.3),(8.15,9.7),(8.15,8.3),(8.2,11.1),(8.2,7.8),(8.25,8.9),(8.25,10.0),
    (8.3,8.5),(8.3,9.3),(8.35,7.4),(8.35,10.5),(8.4,8.0),(8.4,9.0),(8.45,11.4),(8.45,8.7),(8.5,9.6),(8.5,7.9),
    (7.3,7.0),(7.55,7.4),(7.4,10.6),(8.55,8.3),(8.55,10.2),(8.6,9.1),(8.6,7.2),(8.65,11.0),(8.7,8.6),(8.7,9.8),
    (8.7,13.9),(8.8,14.0),(8.9,14.05),(8.75,7.6),(8.8,9.3),(8.8,10.6),(8.85,8.0),(8.9,8.9),(8.9,11.2),(8.95,7.3),
    (9.0,9.6),(9.0,8.4),(9.0,10.2),(9.05,11.1),(9.1,9.0),(9.1,7.9),(9.15,10.7),(9.2,8.7),(9.2,9.4),(9.25,11.0),
    (9.3,12.7),(9.3,7.8),(9.3,10.0),(9.35,9.1),(9.4,8.8),(9.4,10.5),(9.4,14.85),(9.5,15.1),(9.45,9.6),(9.5,9.3),
    (9.5,11.1),(9.55,8.6),(9.55,9.9),(9.6,10.8),(9.6,9.2),(9.65,9.5),(9.7,8.0),(9.7,11.7),(9.7,10.2),(9.75,9.0),
    (9.8,9.7),(9.8,11.9),(9.85,10.4),(9.85,8.6),(9.9,9.3),(9.9,13.7),(9.95,10.0),(10.0,8.5),(10.0,9.6),(10.0,12.2),
    (9.15,9.7),(9.6,9.45),(9.65,9.3),(9.3,8.3),(8.65,8.8),(10.05,14.4),(10.1,9.3),(10.1,10.6),(10.15,8.5),(10.2,14.5),
    (10.2,15.4),(10.3,15.35),(10.3,14.9),(10.35,15.35),(10.2,10.0),(10.25,11.4),(10.3,9.5),(10.3,12.7),(10.35,10.3),(10.4,10.9),
    (10.4,8.5),(10.45,12.1),(10.45,9.8),(10.5,10.6),(10.5,11.6),(10.55,10.1),(10.55,8.7),(10.6,11.0),(10.6,13.3),(10.65,10.4),
    (10.65,12.0),(10.7,10.8),(10.7,11.4),(10.7,15.4),(10.75,14.3),(10.7,14.1),(10.75,10.2),(10.8,11.1),(10.8,16.0),(10.8,8.6),
    (10.85,10.6),(10.85,11.6),(10.9,10.9),(10.9,10.0),(10.9,12.9),(10.95,11.3),(10.95,10.5),(11.0,14.7),(11.0,10.8),(11.0,11.7),
    (11.05,10.3),(11.05,11.1),(11.1,12.6),(11.1,14.1),(11.1,8.6),(11.15,10.6),(11.15,11.4),(11.2,12.2),(11.2,9.2),(11.25,11.0),
    (11.25,13.2),(11.3,11.5),(11.3,10.1),(11.35,11.2),(11.35,12.9),(11.4,11.7),(11.4,9.6),(11.45,11.3),(11.5,11.9),(11.5,8.4),
    (11.55,14.15),(11.6,14.15),(11.55,9.0),(11.6,8.6),(11.5,11.6),(10.6,9.9),(10.85,9.6),(11.1,10.05),(10.4,10.0),(10.5,9.0),
    (11.6,11.5),(11.65,12.0),(11.7,11.8),(11.7,13.7),(11.75,11.5),(11.8,12.5),(11.8,11.0),(11.85,11.7),(11.9,12.8),(11.9,10.4),
    (11.95,11.2),(12.0,12.3),(12.0,10.0),(12.05,13.1),(12.1,11.7),(12.1,12.0),(12.15,10.6),(12.2,12.6),(12.2,9.9),(12.25,13.0),
    (12.3,11.4),(12.35,12.7),(12.4,13.6),(12.4,11.9),(12.45,14.1),(12.5,12.3),(12.5,10.9),(12.55,13.4),(12.55,11.2),(12.6,9.9),
    (12.6,12.6),(12.65,13.8),(12.7,11.8),(12.75,13.1),(12.8,12.7),(12.85,13.9),(12.85,14.4),(12.9,15.5),(12.9,15.4),(12.9,11.7),
    (12.95,13.2),(13.0,12.5),(13.0,11.6),(12.5,14.0),(13.05,13.7),(13.1,12.9),(13.1,14.8),(13.15,11.7),(13.2,13.5),(13.2,11.4),
    (13.25,12.6),(13.3,13.9),(13.3,11.4),(13.35,13.2),(13.4,12.8),(13.45,13.7),(13.5,13.3),(13.5,10.2),(13.5,14.05),(13.55,13.9),
    (13.55,14.8),(13.6,13.5),(13.6,10.4),(13.6,15.45),(13.65,13.8),(13.65,14.7),(13.7,13.2),(13.7,10.5),(13.75,13.6),(13.75,12.4),
    (13.8,14.0),(13.85,13.5),(13.9,11.7),(13.95,13.5),(14.0,10.5),(14.0,10.7),(14.0,13.6),(14.05,14.3),(14.1,12.1),(14.1,11.0),
    (14.15,13.1),(14.2,10.7),(14.25,12.9),(14.3,10.6),(14.3,14.15),(14.75,13.8),(14.9,13.6),(14.8,15.4),(14.9,15.35),(14.95,15.1),
    (15.05,14.7),(15.0,14.6),(15.15,15.2),(13.35,11.45),(13.85,13.2),
    (6.3,6.75),(6.4,6.9),(6.5,6.8),(6.6,6.95),(6.7,7.05),(6.8,7.15),(6.45,6.65),(6.55,6.75),(6.65,6.85),(6.75,6.9),
    (6.85,6.85),(6.35,7.0),(10.6,10.6),(10.7,10.9),(10.8,10.7),(10.9,11.2),(11.0,10.6),(10.75,11.0),(10.85,10.8),(10.95,11.0),
    (11.05,10.9),(11.15,11.1),(10.65,11.2),(11.3,11.3),(11.4,11.5),(11.5,11.4),(11.6,11.7),(8.2,8.6),(8.4,8.4),(8.6,8.9),
    (9.2,9.2),(9.4,9.4),
]

vgr2021_woa = [
    (6.6,6.8),(6.65,6.7),(6.7,5.8),(6.7,6.2),(6.75,6.0),(6.75,6.5),(6.8,5.6),(6.8,6.1),(6.8,6.9),(6.85,5.9),
    (6.85,6.4),(6.9,6.0),(6.9,6.7),(6.9,7.1),(6.95,5.7),(6.95,6.3),(7.0,6.0),(7.0,6.5),(7.0,6.9),(7.05,5.8),
    (7.05,6.2),(7.05,7.2),(7.1,6.4),(7.1,6.7),(7.1,5.55),(7.15,6.0),(7.15,6.9),(7.2,5.7),(7.2,6.3),(7.2,7.0),
    (7.25,6.6),(7.25,7.3),(7.3,6.1),(7.3,6.8),(7.3,7.5),(7.35,6.4),(7.35,7.0),(7.4,6.7),(7.4,7.3),(7.4,7.6),
    (7.45,6.9),(7.45,8.2),(7.45,8.6),(7.5,7.1),(7.5,7.4),(7.5,8.0),(7.5,8.75),(7.55,6.8),(7.55,7.7),(7.55,8.4),
    (7.6,7.0),(7.6,7.3),(7.6,8.1),(7.65,6.6),(7.65,7.5),(7.65,8.6),(7.7,7.2),(7.7,7.9),(7.7,6.5),(7.75,7.0),
    (7.75,7.6),(7.8,7.3),(7.8,6.6),(7.85,6.9),(7.85,7.7),(7.9,7.0),(7.9,8.75),(7.95,6.8),(7.35,6.2),(7.15,5.95),
    (6.95,6.6),(7.2,6.6),(7.35,8.1),(7.6,7.9),(7.4,7.85),(7.25,6.0),(6.9,5.5),(8.0,7.4),(8.05,8.3),(8.1,7.2),
    (8.15,8.6),(8.2,8.0),(8.25,7.2),(8.3,8.7),(8.35,7.9),(8.4,8.4),(8.45,8.1),(8.5,9.6),(8.5,7.4),(8.55,10.2),
    (8.55,8.3),(8.6,6.8),(8.6,9.0),(8.65,7.3),(8.65,8.7),(8.7,9.3),(8.7,8.2),(8.75,7.6),(8.75,10.0),(8.8,8.4),
    (8.8,7.0),(8.8,10.3),(8.85,8.8),(8.9,9.4),(8.9,8.6),(8.95,9.0),(9.0,8.8),(9.05,8.9),(9.1,9.1),(9.15,8.5),
    (9.2,9.0),(9.25,8.1),(9.3,9.2),(9.3,10.0),(9.35,8.8),(9.4,9.0),(9.4,10.0),(9.45,9.5),(8.4,7.8),(8.5,8.85),
    (8.95,8.25),(9.2,8.7),(8.3,9.2),(8.45,9.2),(8.7,9.65),(9.6,9.5),(9.65,10.0),(9.7,8.9),(9.7,10.8),(9.75,9.3),
    (9.8,8.8),(9.8,10.6),(9.85,9.6),(9.9,8.7),(9.9,10.2),(9.95,9.0),(9.95,9.4),(10.0,8.7),(10.0,9.9),(10.0,7.2),
    (10.0,7.3),(10.05,7.6),(10.05,9.4),(10.05,10.8),(10.1,9.2),(10.1,10.4),(10.1,8.0),(10.15,7.9),(10.15,9.7),(10.2,8.3),
    (10.2,9.5),(10.2,11.2),(10.25,10.0),(10.3,9.1),(10.3,8.4),(10.3,10.6),(10.35,9.4),(10.4,9.9),(10.4,11.1),(10.45,9.3),
    (10.5,10.3),(10.5,11.4),(10.55,9.6),(10.6,10.9),(10.6,9.0),(10.65,10.1),(10.7,9.7),(10.7,11.2),(10.75,10.5),(10.8,9.9),
    (10.8,10.8),(10.85,10.2),(10.85,8.9),(10.9,10.6),(10.9,11.5),(10.95,9.8),(11.0,10.4),(11.0,11.0),(11.05,10.0),(11.1,10.7),
    (11.1,8.6),(11.15,11.3),(11.2,10.1),(11.2,8.5),(11.25,11.0),(11.3,9.2),(11.3,9.0),(11.0,8.6),(10.7,8.9),(10.6,9.4),
    (10.4,9.45),(10.25,8.4),(11.35,11.2),(11.4,10.6),(11.45,11.0),(11.5,9.9),(11.5,10.8),(11.55,11.1),(11.6,10.5),(11.6,9.6),
    (11.65,11.4),(11.7,10.2),(11.7,8.2),(11.7,8.4),(11.75,8.6),(11.75,10.9),(11.8,11.8),(11.8,9.0),(11.85,10.4),(11.9,11.0),
    (11.9,9.6),(11.95,11.6),(12.0,10.8),(12.0,12.1),(12.0,9.2),(12.05,11.3),(12.05,10.0),(12.1,8.9),(12.1,11.7),(12.15,8.6),
    (12.15,10.6),(12.2,11.5),(12.2,8.8),(12.25,11.1),(12.25,12.3),(12.3,11.6),(12.3,9.2),(12.35,12.0),(12.35,11.3),(12.4,10.9),
    (12.45,11.8),(12.5,12.7),(12.5,9.6),(12.55,11.5),(12.55,12.2),(12.6,9.9),(12.6,8.5),(12.6,13.3),(12.65,11.0),(12.7,9.0),
    (12.7,12.5),(12.75,13.5),(12.8,9.4),(12.8,10.9),(12.85,13.9),(12.9,10.4),(12.9,8.7),(12.95,11.9),(13.0,13.6),(13.0,10.5),
    (13.0,8.7),(12.4,13.5),(12.55,13.2),(12.45,9.8),(12.15,9.5),(11.95,10.1),(13.05,14.0),(13.05,9.2),(13.1,13.5),(13.1,12.6),
    (13.15,13.9),(13.15,11.2),(13.2,14.2),(13.2,13.0),(13.25,11.3),(13.3,13.7),(13.3,14.1),(13.35,12.4),(13.4,13.0),(13.4,9.5),
    (13.45,13.9),(13.45,11.6),(13.5,13.1),(13.5,11.2),(13.55,12.9),(13.6,11.8),(13.6,11.3),(13.65,11.9),(13.7,11.2),(13.7,12.1),
    (13.7,8.45),(13.75,11.7),(13.75,10.9),(13.8,11.5),(13.8,12.3),(13.8,9.5),(13.85,11.0),(13.85,11.8),(13.9,11.6),(13.9,12.5),
    (13.95,11.4),(14.0,11.7),(14.0,13.2),(14.0,10.05),(14.0,8.5),(14.05,11.9),(14.1,12.7),(14.1,13.5),(14.15,11.6),(14.15,13.3),
    (14.2,12.9),(14.2,15.55),(14.25,13.6),(14.3,13.8),(14.3,12.8),(14.35,15.45),(14.35,8.65),(14.4,13.4),(14.45,13.0),(13.35,13.5),
    (13.6,13.4),(13.9,12.9),(14.5,15.4),(14.5,13.5),(14.5,12.2),(14.55,13.3),(14.6,14.3),(14.6,12.7),(14.65,15.4),(14.7,14.6),
    (14.7,12.0),(14.65,8.7),(14.75,14.9),(14.8,15.4),(14.8,12.9),(14.85,14.0),(14.95,8.45),(15.0,13.8),(15.05,15.3),(15.2,8.9),
    (15.2,10.25),(15.35,13.0),(15.35,12.8),(15.45,14.1),(15.5,9.85),(15.4,11.0),(15.5,11.0),(15.6,16.15),(15.4,15.4),(15.65,11.2),
    (15.7,11.65),(15.9,11.7),(15.95,12.35),(16.0,11.6),(16.1,11.7),(15.2,11.95),(16.15,10.85),(16.3,10.55),(16.45,10.2),(16.45,9.9),
    (16.5,10.6),(16.55,10.9),(16.5,10.7),(16.55,12.25),(16.3,12.3),(16.4,12.4),(16.35,13.4),(16.45,13.45),(16.4,14.1),(16.45,14.5),
    (16.5,14.7),(16.55,15.1),(16.5,15.0),(16.55,13.9),(16.6,12.7),(16.6,11.8),(16.4,13.9),(14.6,11.4),(14.7,11.45),
    (6.85,6.2),(6.95,6.1),(7.0,5.75),(7.1,6.1),(7.15,6.5),(6.8,6.35),(7.05,6.45),(6.75,5.7),(7.25,6.45),(7.45,7.2),
    (7.55,7.15),(7.5,7.6),(7.6,7.55),(7.65,7.8),(7.45,8.4),(7.55,8.55),(7.7,7.45),(7.35,7.25),(10.6,10.2),(10.7,10.4),
    (10.8,10.1),(10.75,9.6),(10.9,10.3),(10.65,10.6),(10.85,10.5),(10.55,10.0),(12.2,11.2),(12.3,11.4),(12.1,11.0),
]

# fitted (black) lines as drawn: slope, intercept
fit_slope = [0.93, 1.164, 0.972, 1.0, 0.895, 0.755]
fit_intercept = [1.0, -1.82, 0.36, 0.0, 1.29, 1.75]

panel_letters = ["(a)", "(b)", "(c)", "(d)", "(e)", "(f)"]
panel_titles = ["BWR-2011 Temperature", "BWR-2011 Temperature",
                "BWR-2015 Temperature", "BWR-2015 Temperature",
                "VGR-2020/2021 Temperature", "VGR-2020/2021 Temperature"]
x_labels = ["ARMOR", "WOA-23", "ARMOR", "WOA-23", "ARMOR", "WOA-23"]
r2_text = ["0.928", "0.89", "0.925", "0.823", "0.758", "0.695"]
slope_text = ["0.93", "1.30", "0.97", "1.05", "0.90", "0.78"]
axis_ranges = [(5, 23), (5, 23), (4, 20), (4, 20), (4, 18), (4, 18)]
tick_values = [list(range(5, 24, 2)), list(range(7, 24, 2)),
               list(range(4, 21, 2)), list(range(4, 21, 2)),
               list(range(4, 19, 2)), list(range(4, 19, 2))]
# where the stats text block sits (data coords, left edge / vertical middle)
stats_pos = [(17.17, 10.41), (17.19, 10.42), (14.85, 10.0), (14.86, 10.0), (4.46, 15.47), (4.45, 15.45)]

series = [bwr2011_armor, bwr2011_woa, bwr2015_armor, bwr2015_woa, vgr2021_armor, vgr2021_woa]
colors = ["#9933CC", "#9933CC", "#FFA500", "#FFA500", "#33CC33", "#33CC33"]

# ---- layout in pixels (left, right, top, bottom) ----
W, H = 1935, 2908
boxes = [(79, 913, 43, 831), (1083, 1913, 37, 825),
         (80, 914, 1024, 1811), (1084, 1913, 1023, 1811),
         (80, 913, 2039, 2824), (1084, 1913, 2039, 2824)]
title_y = [18, 18, 998, 998, 2013, 2013]
ylabel_x = [20, 1018, 20, 1018, 20, 1018]

AX = "#262626"
SANS = "Liberation Sans, Arial, sans-serif"
TICK_FONT = dict(family=SANS, size=31, color=AX)

fig = go.Figure()
annotations = []
layout = {}

for i in range(6):
    n = "" if i == 0 else str(i + 1)
    xa, ya = "x" + n, "y" + n
    l, r, t, b = boxes[i]
    lo, hi = axis_ranges[i]
    pts = series[i]

    fig.add_trace(go.Scatter(
        x=[p[0] for p in pts], y=[p[1] for p in pts], mode="markers",
        marker=dict(size=6, color=colors[i], line=dict(width=0)),
        xaxis=xa, yaxis=ya, showlegend=False, hoverinfo="skip"))

    fx = [lo, hi]
    fig.add_trace(go.Scatter(
        x=fx, y=[fit_slope[i] * v + fit_intercept[i] for v in fx], mode="lines",
        line=dict(color="black", width=2, dash="8px,5px"),
        xaxis=xa, yaxis=ya, showlegend=False, hoverinfo="skip"))
    fig.add_trace(go.Scatter(
        x=fx, y=fx, mode="lines",
        line=dict(color="#FF0000", width=2, dash="8px,5px"),
        xaxis=xa, yaxis=ya, showlegend=False, hoverinfo="skip"))

    common = dict(
        range=[lo, hi], tickvals=tick_values[i], ticks="inside", ticklen=7,
        tickwidth=1.5, tickcolor=AX, showline=True, linecolor=AX, linewidth=1.5,
        showgrid=True, gridcolor="#E3E3E3", gridwidth=1.2, zeroline=False,
        tickfont=TICK_FONT, mirror=False, fixedrange=True, automargin=False)
    layout["xaxis" + n] = dict(common, domain=[l / W, r / W], anchor=ya,
                               ticklabelstandoff=0)
    layout["yaxis" + n] = dict(common, domain=[1 - b / H, 1 - t / H], anchor=xa,
                               ticklabelstandoff=2)

    # title, panel letter, axis labels
    annotations.append(dict(
        text="<b>" + panel_titles[i] + "</b>", x=(l + r) / 2 / W, y=1 - title_y[i] / H,
        xref="paper", yref="paper", showarrow=False, xanchor="center", yanchor="middle",
        font=dict(family=SANS, size=34, color="black")))
    annotations.append(dict(
        text=panel_letters[i], x=(l + 30) / W, y=1 - (title_y[i] + 3) / H,
        xref="paper", yref="paper", showarrow=False, xanchor="center", yanchor="middle",
        font=dict(family="Lato, sans-serif", size=32, color=AX)))
    annotations.append(dict(
        text=x_labels[i], x=(l + r) / 2 / W, y=1 - (b + 66) / H,
        xref="paper", yref="paper", showarrow=False, xanchor="center", yanchor="middle",
        font=dict(family=SANS, size=34, color=AX)))
    annotations.append(dict(
        text="In-situ", x=ylabel_x[i] / W, y=1 - (t + b) / 2 / H, textangle=-90,
        xref="paper", yref="paper", showarrow=False, xanchor="center", yanchor="middle",
        font=dict(family=SANS, size=34, color=AX)))
    sx, sy = stats_pos[i]
    annotations.append(dict(
        text="R<sup>2</sup> = " + r2_text[i] + "<br>slope = " + slope_text[i],
        x=sx, y=sy, xref=xa, yref=ya, showarrow=False, xanchor="left", yanchor="middle",
        align="left", font=dict(family=SANS, size=26, color="black")))

fig.update_layout(
    width=W, height=H, margin=dict(l=0, r=0, t=0, b=0, autoexpand=False),
    paper_bgcolor="white", plot_bgcolor="white",
    annotations=annotations, **layout)

fig.write_html("out.html", config={"displayModeBar": False},
               post_script="document.body.style.margin='0';")
